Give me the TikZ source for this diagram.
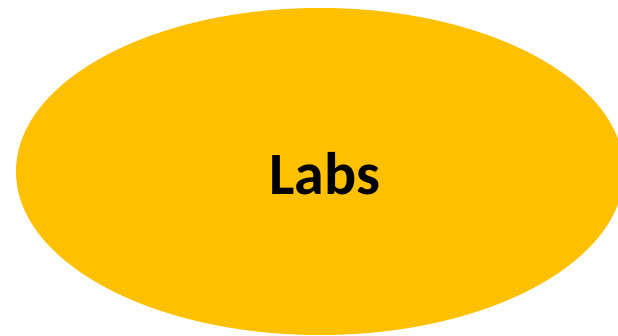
\documentclass[tikz,border=0pt]{standalone}
\usepackage{fontspec}
\setmainfont{Carlito}
\definecolor{gold}{HTML}{FFC000}
\begin{document}
\begin{tikzpicture}[x=1pt,y=1pt,
  blob/.style={fill=gold,draw=none},
  lbl/.style={font=\bfseries\fontsize{60}{66}\selectfont,text=black,inner sep=0pt,anchor=base}]
\useasboundingbox (0,0) rectangle (618,336);
\begin{scope}
\clip (0,0) rectangle (618,336);
\fill[blob] (320,164.5) ellipse [x radius=304, y radius=163.5];
\end{scope}
\node[lbl] (labs) at (324.5,141) {Labs};
\end{tikzpicture}
\end{document}
